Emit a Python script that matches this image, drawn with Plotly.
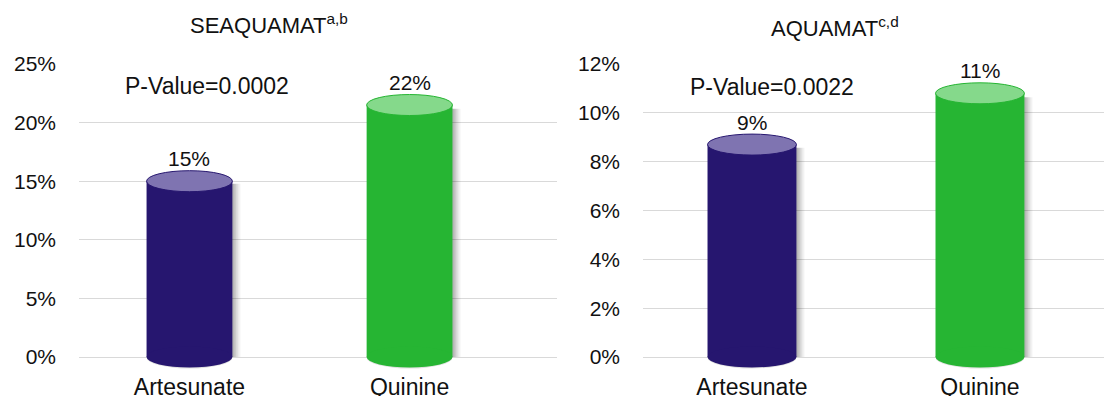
import plotly.graph_objects as go

# Mortality by treatment arm in the two trials
categories = ["Artesunate", "Quinine"]
seaquamat_values = [15.0, 21.5]
aquamat_values = [8.7, 10.8]
seaquamat_ticks = [0, 5, 10, 15, 20, 25]
aquamat_ticks = [0, 2, 4, 6, 8, 10, 12]
p_values = ["P-Value=0.0002", "P-Value=0.0022"]
panel_titles = ["SEAQUAMAT<sup>a,b</sup>", "AQUAMAT<sup>c,d</sup>"]

body_colors = ["#26166f", "#26b533"]
top_colors = ["#7f74b1", "#85d98b"]

FONT = "Liberation Sans, Arial, sans-serif"
TXT = "#111111"
BAR_W = 0.39
ELL_HALF = 10.5  # half height of the cylinder caps, px

W, H = 1104, 396
ZERO_PX, TOP_PX, PAD_PX = 357, 64, 13  # pixel rows of 0 and the top tick; room below 0 for caps

fig = go.Figure()

panels = [
    dict(vals=seaquamat_values, ticks=seaquamat_ticks, xa="x", ya="y",
         xdom=[79 / W, 557 / W], xr=[-0.502, 1.67]),
    dict(vals=aquamat_values, ticks=aquamat_ticks, xa="x2", ya="y2",
         xdom=[643 / W, 1.0], xr=[-0.478, 1.544]),
]

ydom = [(H - ZERO_PX - PAD_PX) / H, (H - TOP_PX) / H]
shapes = []
annotations = []

for k, p in enumerate(panels):
    ymax = p["ticks"][-1]
    ymin = -PAD_PX * ymax / (ZERO_PX - TOP_PX)
    fig.add_trace(go.Bar(
        x=categories, y=p["vals"], width=BAR_W,
        marker=dict(color=body_colors, line=dict(width=0)),
        xaxis=p["xa"], yaxis=p["ya"], showlegend=False, hoverinfo="skip",
    ))
    for i, v in enumerate(p["vals"]):
        # soft shadow on the right side of each cylinder
        for ext, op in [(8, 0.05), (6, 0.07), (4, 0.09), (2, 0.1)]:
            shapes.append(dict(
                type="rect", layer="between", xref=p["xa"], yref=p["ya"],
                xsizemode="pixel", xanchor=i + BAR_W / 2, x0=-2, x1=ext,
                y0=0, y1=v * 0.985, fillcolor=f"rgba(0,0,0,{op})", line=dict(width=0),
            ))
        # shadow under the bottom cap
        shapes.append(dict(
            type="circle", layer="between", xref=p["xa"], yref=p["ya"],
            x0=i - BAR_W / 2, x1=i + BAR_W / 2,
            xsizemode="scaled", ysizemode="pixel", yanchor=0, y0=-ELL_HALF - 1, y1=ELL_HALF,
            fillcolor="rgba(0,0,0,0.12)", line=dict(width=0),
        ))
        # bottom cap
        shapes.append(dict(
            type="circle", layer="above", xref=p["xa"], yref=p["ya"],
            x0=i - BAR_W / 2, x1=i + BAR_W / 2,
            ysizemode="pixel", yanchor=0, y0=-ELL_HALF, y1=ELL_HALF,
            fillcolor=body_colors[i], line=dict(width=0),
        ))
        # top cap
        shapes.append(dict(
            type="circle", layer="above", xref=p["xa"], yref=p["ya"],
            x0=i - BAR_W / 2, x1=i + BAR_W / 2,
            ysizemode="pixel", yanchor=v, y0=-ELL_HALF, y1=ELL_HALF,
            fillcolor=top_colors[i], line=dict(width=1, color=body_colors[i]),
        ))
        # value label above the cap
        annotations.append(dict(
            x=i, y=v, xref=p["xa"], yref=p["ya"], text=f"{v:.0f}%",
            showarrow=False, yanchor="bottom", yshift=9,
            font=dict(family=FONT, size=21, color=TXT),
        ))

    ax_x = "xaxis" if k == 0 else "xaxis2"
    ax_y = "yaxis" if k == 0 else "yaxis2"
    fig.layout[ax_x] = dict(
        domain=p["xdom"], range=p["xr"], type="category", automargin=False,
        anchor=p["ya"], showgrid=False, zeroline=False, showline=False,
        ticks="", ticklabelstandoff=1,
        tickfont=dict(family=FONT, size=23, color=TXT),
    )
    fig.layout[ax_y] = dict(
        domain=ydom, range=[ymin, ymax], anchor=p["xa"], automargin=False,
        tickvals=p["ticks"], ticktext=[f"{t}%" for t in p["ticks"]],
        showgrid=True, gridcolor="#d9d9d9", gridwidth=1,
        zeroline=False, showline=False, ticks="", ticklabelstandoff=22,
        tickfont=dict(family=FONT, size=21, color=TXT),
    )

# panel titles
for txt, cx, cy in zip(panel_titles, [269, 835], [24, 27]):
    annotations.append(dict(
        x=cx / W, y=1 - cy / H, xref="paper", yref="paper", text=txt,
        showarrow=False, xanchor="center", yanchor="middle",
        font=dict(family=FONT, size=22, color=TXT),
    ))

# P-value notes
for txt, lx, cy in zip(p_values, [123, 688], [86, 87]):
    annotations.append(dict(
        x=lx / W, y=1 - cy / H, xref="paper", yref="paper", text=txt,
        showarrow=False, xanchor="left", yanchor="middle",
        font=dict(family=FONT, size=23, color=TXT),
    ))

fig.update_layout(
    width=W, height=H, margin=dict(l=0, r=0, t=0, b=0, autoexpand=False),
    paper_bgcolor="white", plot_bgcolor="white",
    shapes=shapes, annotations=annotations, bargap=0.6,
)

fig.write_html("out.html", config={"displayModeBar": False})
